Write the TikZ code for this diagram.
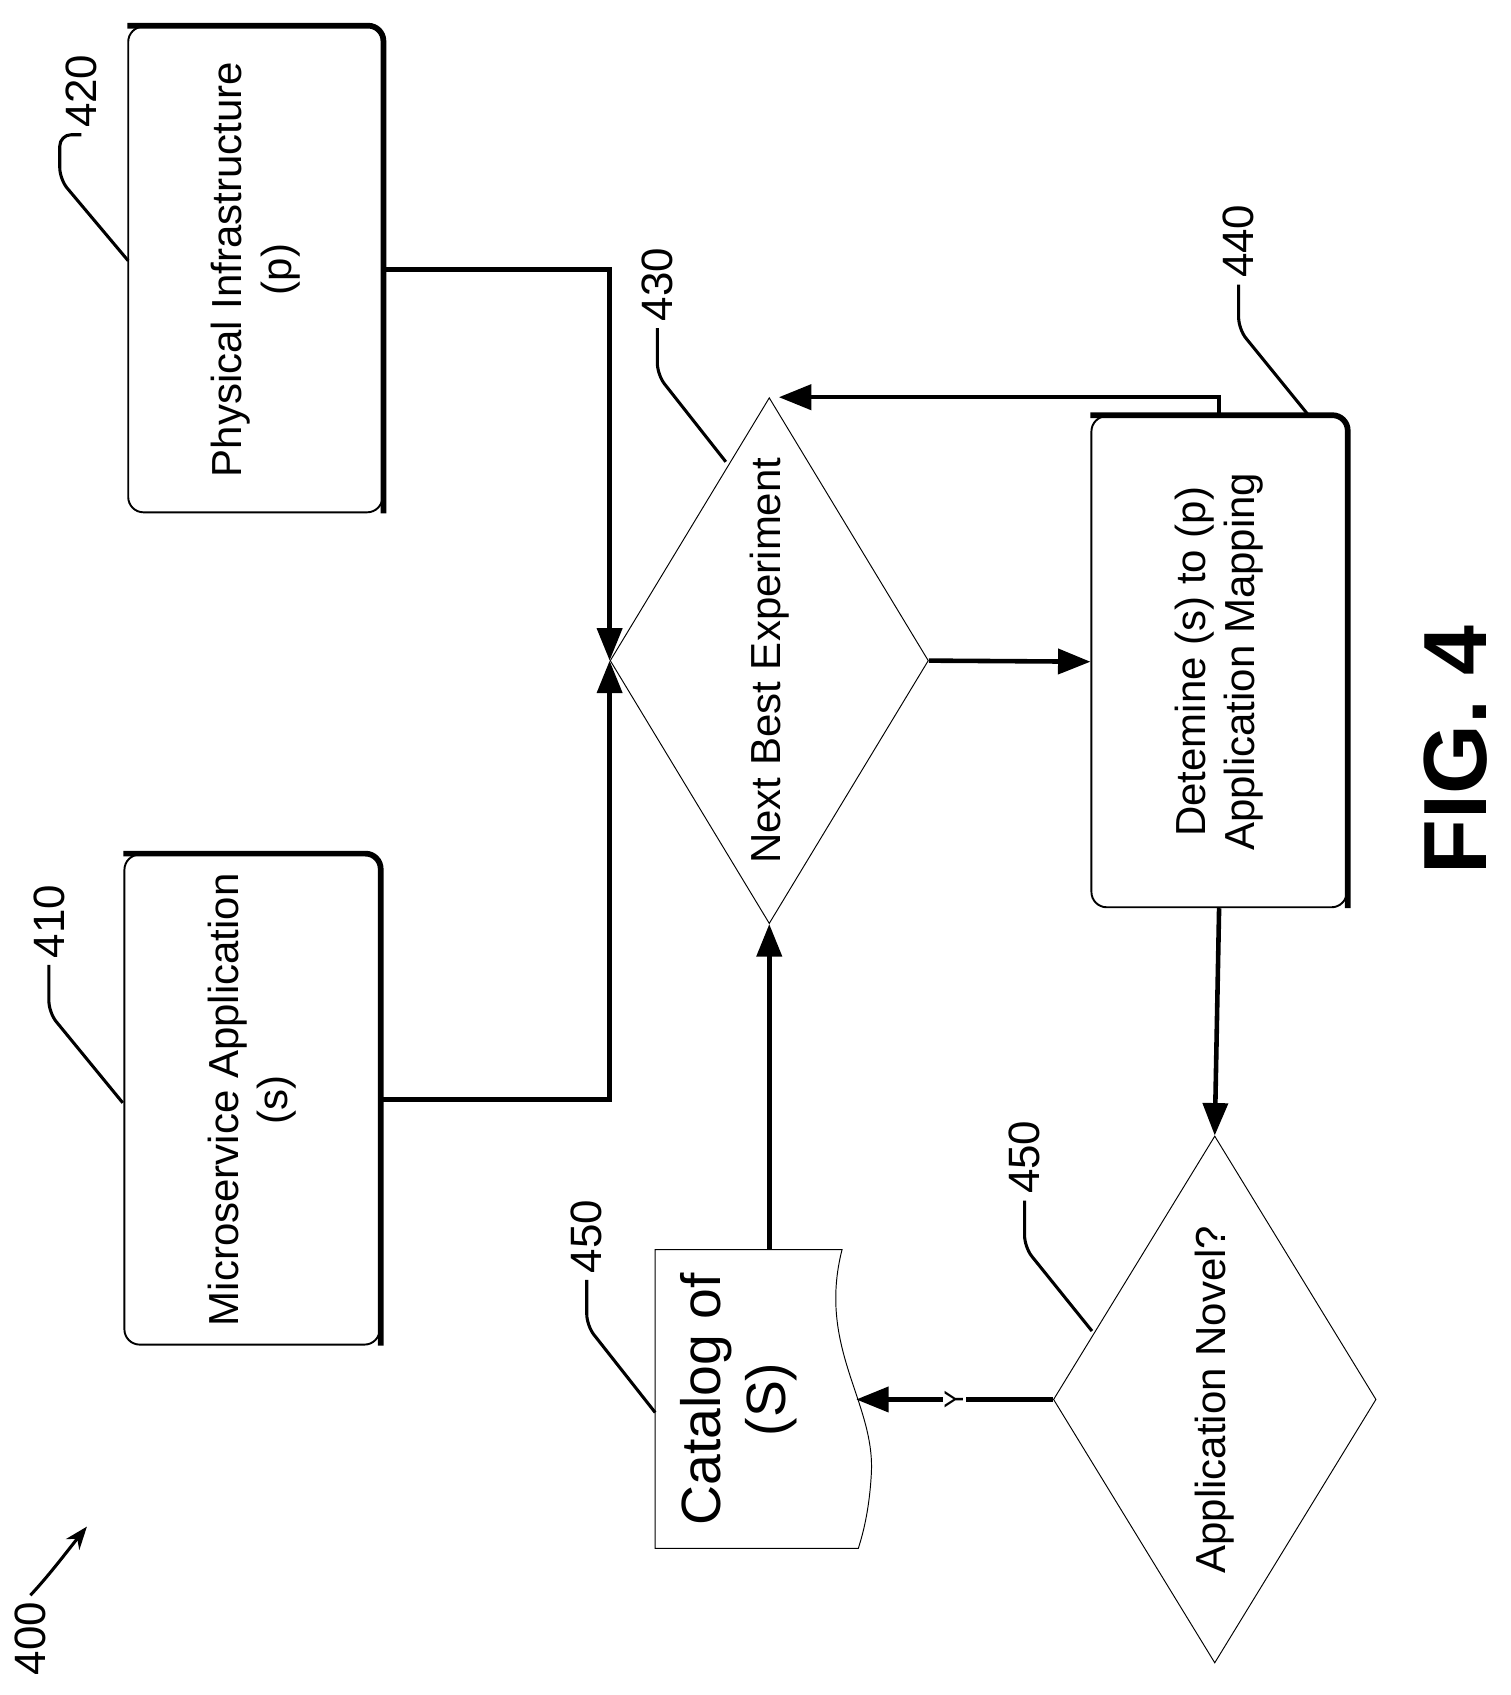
\documentclass[tikz,border=0pt]{standalone}
\usepackage{fontspec}
\setmainfont{Liberation Sans}
\usetikzlibrary{positioning,arrows.meta,shapes.geometric}
\tikzset{
  box/.style={draw,rounded corners=8pt,line width=1pt,inner sep=0},
  shade/.style={line width=3pt,rounded corners=8pt,xshift=1.5pt,yshift=1.5pt},
  dec/.style={draw,diamond,aspect=0.6,line width=0.5pt,inner sep=0},
  lbl/.style={rotate=90,font=\fontsize{22}{26}\selectfont,align=center},
  num/.style={rotate=90,font=\fontsize{23}{27}\selectfont,anchor=west},
  flow/.style={line width=2.4pt,-{Triangle[length=17pt,width=13pt]}},
  lead/.style={line width=1.6pt,rounded corners=6pt}
}
\begin{document}
\begin{tikzpicture}[x=0.02cm,y=-0.02cm]
\useasboundingbox (0,0) rectangle (1390,1560);
% boxes
\node[box,minimum width=234*0.02cm,minimum height=447*0.02cm] (phys) at (235,248) {};
\draw[shade] (phys.north west) -- (phys.north east) -- (phys.south east);
\node[lbl] (physt) at (phys.center) {Physical Infrastructure\\(p)};
\node[box,minimum width=235*0.02cm,minimum height=451*0.02cm] (micro) at (232,1012) {};
\draw[shade] (micro.north west) -- (micro.north east) -- (micro.south east);
\node[lbl] (microt) at (micro.center) {Microservice Application\\(s)};
\node[box,minimum width=235*0.02cm,minimum height=452*0.02cm] (map) at (1122,609) {};
\draw[shade] (map.north west) -- (map.north east) -- (map.south east);
\node[lbl] (mapt) at (map.center) {Detemine (s) to (p)\\Application Mapping};
% decisions
\node[dec,minimum width=293*0.02cm,minimum height=484*0.02cm] (nbe) at (708,608) {};
\node[lbl] (nbet) at (nbe.center) {Next Best Experiment};
\node[dec,minimum width=297*0.02cm,minimum height=485*0.02cm] (novel) at (1118,1288) {};
\node[lbl] (novelt) at (novel.center) {Application Novel?};
% catalog
\draw[line width=0.5pt] (603,1150) -- (775,1150) .. controls (752,1240) and (805,1290) .. (802,1355)
  .. controls (800,1395) and (792,1418) .. (790,1425) -- (603,1425) -- cycle;
\coordinate (cattop) at (708,1150);
\coordinate (catin) at (788,1288);
\node[rotate=90,font=\fontsize{29}{34}\selectfont,align=center] (catt) at (680,1288) {Catalog of\\(S)};
% connectors
\draw[flow] (phys.east) -| (nbe.west);
\draw[flow] (micro.east) -| (nbe.west);
\draw[flow] (cattop) -- (nbe.south);
\draw[flow] (nbe.east) -- (map.west);
\draw[flow] (map.north) |- ([xshift=5pt]nbe.north);
\draw[flow] (map.south) -- (novel.north);
\draw[flow] (novel.west) -- node[rotate=90,font=\fontsize{14}{16}\selectfont,fill=white,inner sep=1pt] {Y} (catin);
% reference numerals
\node[num] (n420) at (75,124) {420};
\draw[lead] (n420.west) -- (55,124) -- (55,165) -- (118,240);
\node[num] (n410) at (45,888) {410};
\draw[lead] (n410.west) -- (45,932) -- (113,1015);
\node[num] (n430) at (605,302) {430};
\draw[lead] (n430.west) -- (605,345) -- (668,425);
\node[num] (n440) at (1140,262) {440};
\draw[lead] (n440.west) -- (1140,303) -- (1205,383);
\node[num] (n450a) at (943,1105) {450};
\draw[lead] (n450a.west) -- (943,1148) -- (1005,1225);
\node[num] (n450b) at (540,1178) {450};
\draw[lead] (n450b.west) -- (540,1220) -- (603,1300);
\node[num] (n400) at (28,1548) {400};
\draw[line width=1.6pt,-{Stealth[length=12pt]}] (n400.east) .. controls (45,1450) and (60,1430) .. (80,1405);
\node[rotate=90,font=\bfseries\fontsize{47}{50}\selectfont] (fig) at (1340,690) {FIG. 4};
\end{tikzpicture}
\end{document}
